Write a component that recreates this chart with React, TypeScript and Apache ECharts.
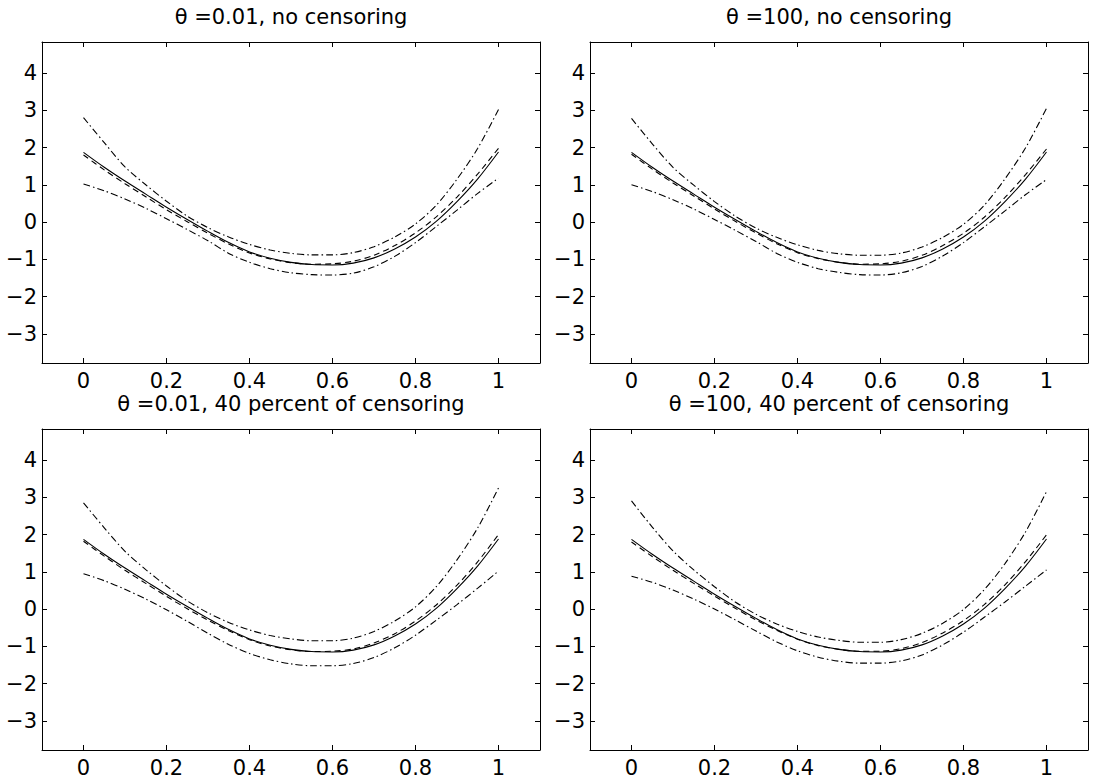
import React, { useEffect, useRef } from "react";
import * as echarts from "echarts";

const X = [0, 0.05, 0.1, 0.15, 0.2, 0.25, 0.3, 0.35, 0.4, 0.45, 0.5, 0.55, 0.6, 0.65, 0.7, 0.75, 0.8, 0.85, 0.9, 0.95, 1];
const X_TICKS = [0, 0.2, 0.4, 0.6, 0.8, 1];
const Y_TICKS = [-3, -2, -1, 0, 1, 2, 3, 4];
const TITLES = [
  "\u03b8 =0.01, no censoring",
  "\u03b8 =100, no censoring",
  "\u03b8 =0.01, 40 percent of censoring",
  "\u03b8 =100, 40 percent of censoring",
];

const TRUE_F = [1.87, 1.47, 1.10, 0.75, 0.40, 0.07, -0.25, -0.55, -0.80, -0.97, -1.08, -1.14, -1.15, -1.10, -0.96, -0.72, -0.40, 0.02, 0.55, 1.16, 1.88];

const TL_EST = [1.80, 1.40, 1.03, 0.68, 0.33, 0.01, -0.30, -0.59, -0.83, -0.99, -1.09, -1.13, -1.12, -1.05, -0.89, -0.63, -0.29, 0.14, 0.67, 1.29, 1.98];
const TL_UP = [2.80, 2.13, 1.48, 1.00, 0.56, 0.16, -0.15, -0.40, -0.60, -0.75, -0.84, -0.88, -0.88, -0.82, -0.66, -0.40, -0.05, 0.45, 1.15, 1.98, 3.02];
const TL_LO = [1.02, 0.84, 0.62, 0.37, 0.09, -0.20, -0.50, -0.84, -1.08, -1.25, -1.36, -1.41, -1.42, -1.37, -1.20, -0.92, -0.55, -0.12, 0.32, 0.77, 1.18];

const TR_EST = [1.82, 1.42, 1.05, 0.70, 0.35, 0.02, -0.29, -0.58, -0.82, -0.98, -1.08, -1.13, -1.12, -1.05, -0.89, -0.63, -0.30, 0.13, 0.66, 1.28, 1.96];
const TR_UP = [2.78, 2.10, 1.47, 0.99, 0.55, 0.16, -0.16, -0.41, -0.61, -0.76, -0.85, -0.89, -0.89, -0.83, -0.67, -0.41, -0.06, 0.45, 1.16, 2.00, 3.05];
const TR_LO = [1.00, 0.82, 0.60, 0.35, 0.07, -0.22, -0.52, -0.84, -1.08, -1.25, -1.35, -1.41, -1.42, -1.36, -1.19, -0.91, -0.55, -0.13, 0.30, 0.74, 1.14];

const BL_EST = [1.82, 1.42, 1.04, 0.69, 0.34, 0.01, -0.30, -0.58, -0.82, -0.99, -1.09, -1.14, -1.13, -1.07, -0.91, -0.66, -0.32, 0.11, 0.64, 1.27, 2.00];
const BL_UP = [2.85, 2.18, 1.55, 1.06, 0.62, 0.22, -0.10, -0.36, -0.56, -0.71, -0.80, -0.85, -0.85, -0.78, -0.60, -0.32, 0.06, 0.60, 1.32, 2.18, 3.25];
const BL_LO = [0.95, 0.76, 0.53, 0.27, -0.02, -0.33, -0.65, -0.95, -1.19, -1.36, -1.47, -1.52, -1.52, -1.46, -1.30, -1.04, -0.70, -0.30, 0.12, 0.56, 1.02];

const BR_EST = [1.80, 1.41, 1.04, 0.69, 0.35, 0.02, -0.29, -0.57, -0.81, -0.98, -1.08, -1.13, -1.13, -1.06, -0.90, -0.64, -0.31, 0.12, 0.65, 1.28, 1.99];
const BR_UP = [2.90, 2.20, 1.56, 1.05, 0.60, 0.19, -0.14, -0.40, -0.60, -0.75, -0.84, -0.89, -0.89, -0.82, -0.65, -0.38, -0.01, 0.52, 1.22, 2.08, 3.15];
const BR_LO = [0.88, 0.72, 0.51, 0.27, 0.00, -0.29, -0.59, -0.88, -1.12, -1.29, -1.40, -1.45, -1.45, -1.39, -1.23, -0.96, -0.62, -0.22, 0.19, 0.62, 1.05];

const PANELS = [
  { est: TL_EST, up: TL_UP, lo: TL_LO },
  { est: TR_EST, up: TR_UP, lo: TR_LO },
  { est: BL_EST, up: BL_UP, lo: BL_LO },
  { est: BR_EST, up: BR_UP, lo: BR_LO },
];

const FONT = "DejaVu Sans";
const GRIDS = [
  { left: 42, top: 42, width: 498, height: 321 },
  { left: 590, top: 42, width: 498, height: 321 },
  { left: 42, top: 429, width: 498, height: 321 },
  { left: 590, top: 429, width: 498, height: 321 },
];

function fmt(v: number) {
  return String(v).replace("-", "\u2212");
}

export default function App() {
  const ref = useRef<HTMLDivElement>(null);
  useEffect(() => {
    if (!ref.current) return;
    const chart = echarts.init(ref.current, undefined, { renderer: "svg" });
    const axisLine = { show: true, onZero: false, lineStyle: { color: "#000", width: 1 } };
    const xAxis: any[] = [];
    const yAxis: any[] = [];
    const series: any[] = [];
    const graphic: any[] = [];
    GRIDS.forEach((g, i) => {
      xAxis.push({
        type: "value", gridIndex: i, min: -0.1, max: 1.1, position: "bottom",
        axisLine, splitLine: { show: false },
        axisTick: { show: true, inside: true, length: 5, customValues: X_TICKS, lineStyle: { color: "#000" } },
        axisLabel: { show: true, customValues: X_TICKS, formatter: fmt, color: "#000", fontSize: 21, fontFamily: FONT, margin: 7 },
      });
      xAxis.push({
        type: "value", gridIndex: i, min: -0.1, max: 1.1, position: "top",
        axisLine, splitLine: { show: false },
        axisTick: { show: true, inside: true, length: 5, customValues: X_TICKS, lineStyle: { color: "#000" } },
        axisLabel: { show: false },
      });
      yAxis.push({
        type: "value", gridIndex: i, min: -3.78, max: 4.83, position: "left",
        axisLine, splitLine: { show: false },
        axisTick: { show: true, inside: true, length: 5, customValues: Y_TICKS, lineStyle: { color: "#000" } },
        axisLabel: { show: true, customValues: Y_TICKS, formatter: fmt, color: "#000", fontSize: 21, fontFamily: FONT, margin: 5 },
      });
      yAxis.push({
        type: "value", gridIndex: i, min: -3.78, max: 4.83, position: "right",
        axisLine, splitLine: { show: false },
        axisTick: { show: true, inside: true, length: 5, customValues: Y_TICKS, lineStyle: { color: "#000" } },
        axisLabel: { show: false },
      });
      const p = PANELS[i];
      const mk = (arr: number[], type: any, name: string) => ({
        type: "line", name, xAxisIndex: i * 2, yAxisIndex: i * 2,
        data: X.map((x, k) => [x, arr[k]]),
        showSymbol: false, symbol: "none", smooth: 0.3,
        lineStyle: { color: "#000", width: 1.1, type },
        silent: true,
      });
      series.push(mk(p.up, [7, 3, 1.5, 3], "upper"));
      series.push(mk(p.lo, [7, 3, 1.5, 3], "lower"));
      series.push(mk(p.est, [6, 4], "estimate"));
      series.push(mk(TRUE_F, "solid", "true"));
      graphic.push({
        type: "text",
        x: g.left + g.width / 2,
        y: g.top - 25,
        style: {
          text: TITLES[i], fill: "#000", fontSize: 21, fontFamily: FONT,
          textAlign: "center", textVerticalAlign: "middle",
        },
      });
    });
    chart.setOption({
      animation: false,
      backgroundColor: "#fff",
      grid: GRIDS,
      xAxis, yAxis, series, graphic,
    });
    return () => chart.dispose();
  }, []);
  return <div ref={ref} style={{ position: "absolute", left: 0, top: 0, width: 1095, height: 780 }} />;
}
